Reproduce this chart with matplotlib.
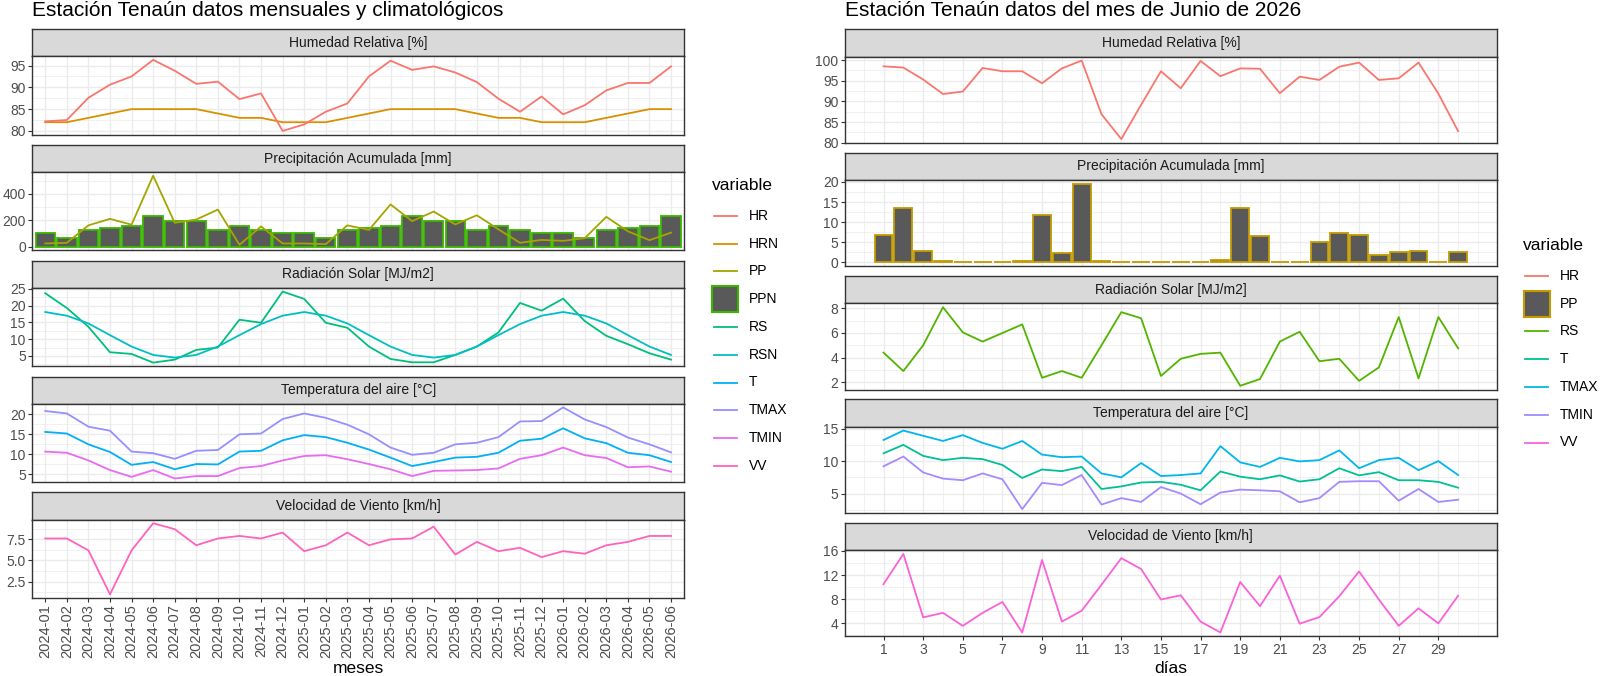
import numpy as np
import matplotlib
matplotlib.use('Agg')
import matplotlib.pyplot as plt
from matplotlib.lines import Line2D
from matplotlib.patches import Rectangle

plt.rcParams['font.family'] = ['Liberation Sans', 'DejaVu Sans']

# ---- datos mensuales y climatológicos (2024-01 .. 2026-06) ----
meses = ['2024-01', '2024-02', '2024-03', '2024-04', '2024-05', '2024-06',
         '2024-07', '2024-08', '2024-09', '2024-10', '2024-11', '2024-12',
         '2025-01', '2025-02', '2025-03', '2025-04', '2025-05', '2025-06',
         '2025-07', '2025-08', '2025-09', '2025-10', '2025-11', '2025-12',
         '2026-01', '2026-02', '2026-03', '2026-04', '2026-05', '2026-06']
hr_mes = [82.2, 82.5, 87.6, 90.6, 92.5, 96.3, 93.8, 90.8, 91.3, 87.3, 88.6, 80.0,
          81.5, 84.4, 86.3, 92.5, 96.1, 94.0, 94.8, 93.4, 91.2, 87.4, 84.4, 87.9,
          83.8, 85.9, 89.3, 91.0, 91.0, 94.8]
hrn_mes = [82, 82, 83, 84, 85, 85, 85, 85, 84, 83, 83, 82,
           82, 82, 83, 84, 85, 85, 85, 85, 84, 83, 83, 82,
           82, 82, 83, 84, 85, 85]
pp_mes = [25, 30, 162, 211, 167, 537, 181, 206, 281, 15, 154, 25,
          25, 20, 162, 127, 320, 194, 266, 169, 238, 132, 30, 52,
          45, 65, 226, 117, 50, 107]
ppn_mes = [105, 70, 125, 140, 160, 230, 195, 195, 125, 160, 125, 105,
           105, 70, 125, 140, 160, 230, 195, 195, 125, 160, 125, 105,
           105, 70, 125, 140, 160, 230]
rs_mes = [23.7, 19.3, 13.7, 6.1, 5.6, 3.0, 3.9, 6.8, 7.5, 15.8, 14.9, 24.2,
          22.0, 14.9, 13.4, 7.8, 4.1, 3.1, 3.1, 5.3, 7.8, 12.0, 20.8, 18.5,
          22.1, 15.4, 11.0, 8.5, 5.8, 3.9]
rsn_mes = [18.1, 17.0, 14.7, 11.2, 7.8, 5.3, 4.5, 5.3, 7.8, 11.2, 14.5, 17.0,
           18.1, 17.0, 14.7, 11.2, 7.8, 5.3, 4.5, 5.3, 7.8, 11.2, 14.5, 17.0,
           18.1, 17.0, 14.7, 11.2, 7.8, 5.3]
t_mes = [15.6, 15.2, 12.5, 10.6, 7.4, 8.1, 6.3, 7.6, 7.5, 10.7, 10.9, 13.5,
         14.8, 14.3, 12.9, 11.2, 9.2, 7.1, 8.1, 9.2, 9.4, 10.4, 13.4, 13.9,
         16.5, 14.0, 12.8, 10.4, 9.8, 8.1]
tmax_mes = [20.8, 20.2, 16.9, 15.9, 10.7, 10.3, 8.9, 10.9, 11.1, 15.0, 15.2, 18.8,
            20.2, 19.1, 17.4, 15.0, 11.7, 9.9, 10.4, 12.5, 12.9, 14.3, 18.2, 18.3,
            21.7, 18.7, 16.8, 14.2, 12.5, 10.5]
tmin_mes = [10.7, 10.4, 8.5, 6.1, 4.4, 6.1, 4.0, 4.6, 4.6, 6.6, 7.1, 8.5,
            9.6, 9.8, 8.8, 7.6, 6.3, 4.6, 5.9, 6.0, 6.1, 6.5, 8.9, 9.8,
            11.7, 9.8, 9.1, 6.8, 7.0, 5.7]
vv_mes = [7.6, 7.6, 6.2, 1.0, 6.2, 9.4, 8.7, 6.8, 7.6, 7.9, 7.6, 8.3,
          6.1, 6.8, 8.3, 6.8, 7.5, 7.6, 9.0, 5.7, 7.2, 6.1, 6.5, 5.4,
          6.1, 5.8, 6.8, 7.2, 7.9, 7.9]

# ---- datos diarios de junio 2026 ----
dias = list(range(1, 31))
hr_dia = [98.5, 98.2, 95.3, 91.8, 92.4, 98.1, 97.3, 97.3, 94.4, 98.0, 99.9, 86.9,
          80.9, 89.2, 97.3, 93.2, 99.8, 96.1, 98.0, 97.9, 92.0, 96.0, 95.2, 98.4,
          99.4, 95.2, 95.6, 99.4, 91.9, 82.8]
pp_dia = [6.9, 13.6, 2.8, 0.3, 0.1, 0.0, 0.0, 0.4, 11.7, 2.3, 19.5, 0.4,
          0.0, 0.0, 0.0, 0.0, 0.2, 0.6, 13.5, 6.5, 0.0, 0.0, 5.0, 7.2,
          6.8, 1.9, 2.7, 2.9, 0.0, 2.7]
rs_dia = [4.4, 2.9, 5.0, 8.1, 6.05, 5.3, 6.0, 6.7, 2.35, 2.9, 2.35, 5.0,
          7.7, 7.2, 2.5, 3.9, 4.3, 4.4, 1.7, 2.25, 5.3, 6.1, 3.7, 3.9,
          2.1, 3.2, 7.3, 2.3, 7.3, 4.75]
tmax_dia = [13.25, 14.7, 13.9, 13.1, 14.0, 12.8, 11.9, 13.1, 11.0, 10.6, 10.7, 8.1,
            7.5, 9.7, 7.7, 7.85, 8.1, 12.3, 9.8, 9.1, 10.5, 9.95, 10.15, 11.65,
            8.9, 10.15, 10.5, 8.6, 10.0, 7.85]
t_dia = [11.2, 12.5, 10.8, 10.15, 10.5, 10.3, 9.4, 7.4, 8.7, 8.45, 9.1, 5.7,
         6.1, 6.7, 6.8, 6.35, 5.5, 8.4, 7.6, 7.2, 7.8, 6.85, 7.2, 8.9,
         7.8, 8.3, 7.05, 7.05, 6.8, 5.9]
tmin_dia = [9.2, 10.7, 8.25, 7.3, 7.05, 8.1, 7.2, 2.6, 6.65, 6.3, 7.85, 3.3,
            4.3, 3.7, 6.0, 5.0, 3.35, 5.15, 5.6, 5.5, 5.35, 3.65, 4.3, 6.8,
            6.9, 6.9, 3.9, 5.7, 3.7, 4.05]
vv_dia = [10.5, 15.5, 5.0, 5.75, 3.6, 5.75, 7.55, 2.5, 14.5, 4.3, 6.1, 10.4,
          14.8, 13.0, 7.95, 8.65, 4.3, 2.5, 10.85, 6.85, 11.9, 3.95, 5.05, 8.5,
          12.6, 7.95, 3.6, 6.5, 4.0, 8.6]

# colores por variable (paleta por defecto de ggplot)
col_mes = {'HR': '#F8766D', 'HRN': '#D89000', 'PP': '#A3A500', 'PPN': '#39B600',
           'RS': '#00BF7D', 'RSN': '#00BFC4', 'T': '#00B0F6', 'TMAX': '#9590FF',
           'TMIN': '#E76BF3', 'VV': '#FF62BC'}
col_dia = {'HR': '#F8766D', 'PP': '#C49A00', 'RS': '#53B400', 'T': '#00C094',
           'TMAX': '#00B6EB', 'TMIN': '#A58AFF', 'VV': '#FB61D7'}

W, H = 1600, 676
GRIS_BORDE = '#333333'
GRIS_TEXTO = '#4D4D4D'
GRID = '#EBEBEB'
LW = 1.3

fig = plt.figure(figsize=(W / 100, H / 100), dpi=100)


def rect(x0, x1, top, bottom):
    return [x0 / W, 1 - bottom / H, (x1 - x0) / W, (bottom - top) / H]


def faceta(x0, x1, top, strip_h, panel_h, titulo):
    s = fig.add_axes(rect(x0, x1, top, top + strip_h))
    s.set_facecolor('#D9D9D9')
    s.set_xticks([])
    s.set_yticks([])
    for sp in s.spines.values():
        sp.set_color(GRIS_BORDE)
        sp.set_linewidth(1.0)
    s.text(0.5, 0.5, titulo, transform=s.transAxes, ha='center', va='center',
           fontsize=10, color='#1A1A1A')
    ax = fig.add_axes(rect(x0, x1, top + strip_h, top + strip_h + panel_h))
    for sp in ax.spines.values():
        sp.set_color(GRIS_BORDE)
        sp.set_linewidth(1.0)
        sp.set_zorder(5)
    ax.set_axisbelow(True)
    return ax


def eje_y(ax, series, ticks, con_cero=False):
    vals = np.concatenate([np.asarray(v, float) for v in series])
    lo, hi = vals.min(), vals.max()
    if con_cero:
        lo = min(lo, 0.0)
    pad = 0.05 * (hi - lo)
    y0, y1 = lo - pad, hi + pad
    ax.set_ylim(y0, y1)
    ax.set_yticks(ticks)
    if all(float(t).is_integer() for t in ticks):
        ax.set_yticklabels([f'{t:.0f}' for t in ticks])
    else:
        ax.set_yticklabels([f'{t:.1f}' for t in ticks])
    paso = ticks[1] - ticks[0]
    menores = np.arange(ticks[0] - paso / 2, ticks[-1] + paso, paso)
    ax.set_yticks([m for m in menores if y0 <= m <= y1], minor=True)
    ax.yaxis.grid(True, which='major', color=GRID, lw=1.0)
    ax.yaxis.grid(True, which='minor', color=GRID, lw=0.5)
    ax.tick_params(axis='y', which='major', length=2.7, width=0.8, color=GRIS_BORDE,
                   labelsize=10, labelcolor=GRIS_TEXTO, pad=2)
    ax.tick_params(axis='y', which='minor', length=0)


def eje_x_mes(ax, abajo):
    x = np.arange(len(meses))
    ax.set_xlim(-0.6, len(meses) - 0.4)
    ax.set_xticks(x)
    ax.xaxis.grid(True, which='major', color=GRID, lw=1.0)
    if abajo:
        ax.set_xticklabels(meses, rotation=90, fontsize=10.5, color=GRIS_TEXTO)
        ax.tick_params(axis='x', length=2.7, width=0.8, color=GRIS_BORDE, pad=2)
    else:
        ax.tick_params(axis='x', length=0, labelbottom=False)


def eje_x_dia(ax, abajo):
    lo, hi = min(dias) - 0.45, max(dias) + 0.45
    pad = 0.05 * (hi - lo)
    ax.set_xlim(lo - pad, hi + pad)
    mayores = dias[::2]
    ax.set_xticks(mayores)
    ax.set_xticks([d for d in range(int(np.ceil(lo - pad)), int(hi + pad) + 1)
                   if d not in mayores], minor=True)
    ax.xaxis.grid(True, which='major', color=GRID, lw=1.0)
    ax.xaxis.grid(True, which='minor', color=GRID, lw=0.5)
    ax.tick_params(axis='x', which='minor', length=0)
    if abajo:
        ax.set_xticklabels([str(d) for d in mayores], fontsize=10, color=GRIS_TEXTO)
        ax.tick_params(axis='x', which='major', length=2.7, width=0.8,
                       color=GRIS_BORDE, pad=2)
    else:
        ax.tick_params(axis='x', which='major', length=0, labelbottom=False)


def linea(ax, x, y, color):
    ax.plot(x, y, color=color, lw=LW, solid_joinstyle='round', zorder=3)


def leyenda(x, y_tit, y0, colores, barra):
    fig.text(x / W, 1 - y_tit / H, 'variable', fontsize=12.5, ha='left', va='center')
    for i, nombre in enumerate(colores):
        y = y0 + i * 27.8
        if nombre == barra:
            fig.add_artist(Rectangle(((x + 0.5) / W, 1 - (y + 13) / H), 26 / W, 26 / H,
                                     transform=fig.transFigure, facecolor='#595959',
                                     edgecolor=colores[nombre], lw=1.5))
        else:
            fig.add_artist(Line2D([(x + 2) / W, (x + 25) / W], [1 - y / H, 1 - y / H],
                                  color=colores[nombre], lw=LW,
                                  transform=fig.transFigure))
        fig.text((x + 37) / W, 1 - y / H, nombre, fontsize=10, ha='left', va='center')


# ================= panel izquierdo: mensual =================
xl0, xl1 = 32.3, 684
x_mes = np.arange(len(meses))
tops_l = [29 + i * 115.85 for i in range(5)]
sh_l, ph_l = 27.3, 78.2

ax = faceta(xl0, xl1, tops_l[0], sh_l, ph_l, 'Humedad Relativa [%]')
linea(ax, x_mes, hrn_mes, col_mes['HRN'])
linea(ax, x_mes, hr_mes, col_mes['HR'])
eje_y(ax, [hr_mes, hrn_mes], [80, 85, 90, 95])
eje_x_mes(ax, False)

ax = faceta(xl0, xl1, tops_l[1], sh_l, ph_l, 'Precipitación Acumulada [mm]')
ax.bar(x_mes, ppn_mes, width=0.9, color='#595959', edgecolor=col_mes['PPN'], lw=1.3, zorder=2)
linea(ax, x_mes, pp_mes, col_mes['PP'])
eje_y(ax, [pp_mes, ppn_mes], [0, 200, 400], con_cero=True)
eje_x_mes(ax, False)

ax = faceta(xl0, xl1, tops_l[2], sh_l, ph_l, 'Radiación Solar [MJ/m2]')
linea(ax, x_mes, rs_mes, col_mes['RS'])
linea(ax, x_mes, rsn_mes, col_mes['RSN'])
eje_y(ax, [rs_mes, rsn_mes], [5, 10, 15, 20, 25])
eje_x_mes(ax, False)

ax = faceta(xl0, xl1, tops_l[3], sh_l, ph_l, 'Temperatura del aire [°C]')
linea(ax, x_mes, t_mes, col_mes['T'])
linea(ax, x_mes, tmax_mes, col_mes['TMAX'])
linea(ax, x_mes, tmin_mes, col_mes['TMIN'])
eje_y(ax, [t_mes, tmax_mes, tmin_mes], [5, 10, 15, 20])
eje_x_mes(ax, False)

ax = faceta(xl0, xl1, tops_l[4], sh_l, ph_l, 'Velocidad de Viento [km/h]')
linea(ax, x_mes, vv_mes, col_mes['VV'])
eje_y(ax, [vv_mes], [2.5, 5.0, 7.5])
eje_x_mes(ax, True)

fig.text(xl0 / W, 1 - 16.5 / H, 'Estación Tenaún datos mensuales y climatológicos',
         fontsize=15, ha='left', va='baseline')
fig.text((xl0 + xl1) / 2 / W, 1 - 673 / H, 'meses', fontsize=12.5, ha='center', va='baseline')
leyenda(711.7, 185, 215.7, col_mes, 'PPN')

# ================= panel derecho: diario =================
xr0, xr1 = 845, 1496.7
tops_r = [29.3 + i * 123.35 for i in range(5)]
sh_r, ph_r = 27.3, 86.4

ax = faceta(xr0, xr1, tops_r[0], sh_r, ph_r, 'Humedad Relativa [%]')
linea(ax, dias, hr_dia, col_dia['HR'])
eje_y(ax, [hr_dia], [80, 85, 90, 95, 100])
eje_x_dia(ax, False)

ax = faceta(xr0, xr1, tops_r[1], sh_r, ph_r, 'Precipitación Acumulada [mm]')
ax.bar(dias, pp_dia, width=0.9, color='#595959', edgecolor=col_dia['PP'], lw=1.3, zorder=2)
eje_y(ax, [pp_dia], [0, 5, 10, 15, 20], con_cero=True)
eje_x_dia(ax, False)

ax = faceta(xr0, xr1, tops_r[2], sh_r, ph_r, 'Radiación Solar [MJ/m2]')
linea(ax, dias, rs_dia, col_dia['RS'])
eje_y(ax, [rs_dia], [2, 4, 6, 8])
eje_x_dia(ax, False)

ax = faceta(xr0, xr1, tops_r[3], sh_r, ph_r, 'Temperatura del aire [°C]')
linea(ax, dias, t_dia, col_dia['T'])
linea(ax, dias, tmax_dia, col_dia['TMAX'])
linea(ax, dias, tmin_dia, col_dia['TMIN'])
eje_y(ax, [t_dia, tmax_dia, tmin_dia], [5, 10, 15])
eje_x_dia(ax, False)

ax = faceta(xr0, xr1, tops_r[4], sh_r, ph_r, 'Velocidad de Viento [km/h]')
linea(ax, dias, vv_dia, col_dia['VV'])
eje_y(ax, [vv_dia], [4, 8, 12, 16])
eje_x_dia(ax, True)

fig.text(xr0 / W, 1 - 16.5 / H, 'Estación Tenaún datos del mes de Junio de 2026',
         fontsize=15, ha='left', va='baseline')
fig.text((xr0 + xr1) / 2 / W, 1 - 673 / H, 'días', fontsize=12.5, ha='center', va='baseline')
leyenda(1523, 245, 275.7, col_dia, 'PP')

fig.savefig('out.png', dpi=100)
